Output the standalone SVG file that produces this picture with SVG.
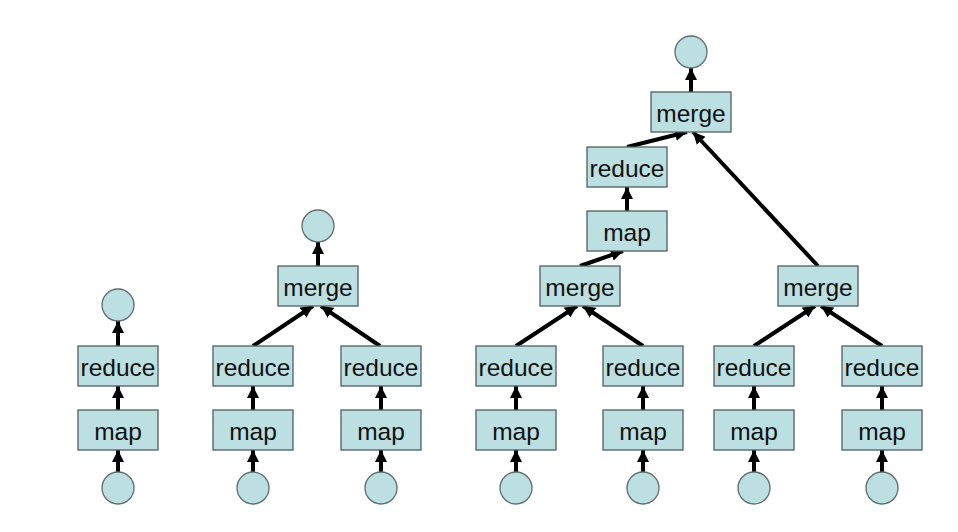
<svg xmlns="http://www.w3.org/2000/svg" width="958" height="532" viewBox="0 0 958 532">
<style>
.b{fill:#bcdfe2;stroke:#4f5f60;stroke-width:1.3}
.c{fill:#bcdfe2;stroke:#5f6d6e;stroke-width:1.3}
.t{font-family:"Liberation Sans",Arial,sans-serif;font-size:24.5px;fill:#111;text-anchor:middle}
.e{stroke:#000;stroke-width:4;fill:none;marker-end:url(#ah)}
</style>
<defs>
<marker id="ah" markerUnits="userSpaceOnUse" markerWidth="12" markerHeight="12" viewBox="0 0 10 10" refX="10" refY="5" orient="auto">
<path d="M0,0 L10,5 L0,10 z" fill="#000"/>
</marker>
</defs>
<rect width="958" height="532" fill="#fff"/>
<g id="connectors">
<line class="e" x1="118" y1="472" x2="118" y2="450"/>
<line class="e" x1="118" y1="410" x2="118" y2="386"/>
<line class="e" x1="118" y1="346" x2="118" y2="321"/>
<line class="e" x1="253" y1="472" x2="253" y2="450"/>
<line class="e" x1="253" y1="410" x2="253" y2="386"/>
<line class="e" x1="381" y1="472" x2="381" y2="450"/>
<line class="e" x1="381" y1="410" x2="381" y2="386"/>
<line class="e" x1="253" y1="346" x2="313" y2="306"/>
<line class="e" x1="380" y1="346" x2="321" y2="306"/>
<line class="e" x1="318" y1="266" x2="318" y2="242"/>
<line class="e" x1="516" y1="472" x2="516" y2="450"/>
<line class="e" x1="516" y1="410" x2="516" y2="386"/>
<line class="e" x1="643" y1="472" x2="643" y2="450"/>
<line class="e" x1="643" y1="410" x2="643" y2="386"/>
<line class="e" x1="754" y1="472" x2="754" y2="450"/>
<line class="e" x1="754" y1="410" x2="754" y2="386"/>
<line class="e" x1="882" y1="472" x2="882" y2="450"/>
<line class="e" x1="882" y1="410" x2="882" y2="386"/>
<line class="e" x1="516" y1="346" x2="577" y2="306"/>
<line class="e" x1="643" y1="346" x2="583" y2="306"/>
<line class="e" x1="754" y1="346" x2="815" y2="306"/>
<line class="e" x1="882" y1="346" x2="821" y2="306"/>
<line class="e" x1="580" y1="266" x2="623" y2="251"/>
<line class="e" x1="627" y1="211" x2="627" y2="187"/>
<line class="e" x1="627" y1="147" x2="687" y2="132"/>
<line class="e" x1="818" y1="266" x2="693" y2="132"/>
<line class="e" x1="691" y1="92" x2="691" y2="68"/>
</g>
<g id="t1-in"><circle class="c" cx="118" cy="488" r="16"/></g>
<g id="t1-map"><rect class="b" x="78" y="410" width="80" height="40"/><text class="t" x="118" y="440">map</text></g>
<g id="t1-reduce"><rect class="b" x="78" y="346" width="80" height="40"/><text class="t" x="118" y="376">reduce</text></g>
<g id="t1-out"><circle class="c" cx="118" cy="305" r="16"/></g>

<g id="t2-in1"><circle class="c" cx="253" cy="488" r="16"/></g>
<g id="t2-in2"><circle class="c" cx="381" cy="488" r="16"/></g>
<g id="t2-map1"><rect class="b" x="213" y="410" width="80" height="40"/><text class="t" x="253" y="440">map</text></g>
<g id="t2-map2"><rect class="b" x="341" y="410" width="80" height="40"/><text class="t" x="381" y="440">map</text></g>
<g id="t2-reduce1"><rect class="b" x="213" y="346" width="80" height="40"/><text class="t" x="253" y="376">reduce</text></g>
<g id="t2-reduce2"><rect class="b" x="341" y="346" width="80" height="40"/><text class="t" x="381" y="376">reduce</text></g>
<g id="t2-merge"><rect class="b" x="278" y="266" width="80" height="40"/><text class="t" x="318" y="296">merge</text></g>
<g id="t2-out"><circle class="c" cx="318" cy="226" r="16"/></g>

<g id="t3-in1"><circle class="c" cx="516" cy="488" r="16"/></g>
<g id="t3-in2"><circle class="c" cx="643" cy="488" r="16"/></g>
<g id="t3-in3"><circle class="c" cx="754" cy="488" r="16"/></g>
<g id="t3-in4"><circle class="c" cx="882" cy="488" r="16"/></g>
<g id="t3-map1"><rect class="b" x="476" y="410" width="80" height="40"/><text class="t" x="516" y="440">map</text></g>
<g id="t3-map2"><rect class="b" x="603" y="410" width="80" height="40"/><text class="t" x="643" y="440">map</text></g>
<g id="t3-map3"><rect class="b" x="714" y="410" width="80" height="40"/><text class="t" x="754" y="440">map</text></g>
<g id="t3-map4"><rect class="b" x="842" y="410" width="80" height="40"/><text class="t" x="882" y="440">map</text></g>
<g id="t3-reduce1"><rect class="b" x="476" y="346" width="80" height="40"/><text class="t" x="516" y="376">reduce</text></g>
<g id="t3-reduce2"><rect class="b" x="603" y="346" width="80" height="40"/><text class="t" x="643" y="376">reduce</text></g>
<g id="t3-reduce3"><rect class="b" x="714" y="346" width="80" height="40"/><text class="t" x="754" y="376">reduce</text></g>
<g id="t3-reduce4"><rect class="b" x="842" y="346" width="80" height="40"/><text class="t" x="882" y="376">reduce</text></g>
<g id="t3-merge1"><rect class="b" x="540" y="266" width="80" height="40"/><text class="t" x="580" y="296">merge</text></g>
<g id="t3-merge2"><rect class="b" x="778" y="266" width="80" height="40"/><text class="t" x="818" y="296">merge</text></g>
<g id="t3-map5"><rect class="b" x="587" y="211" width="80" height="40"/><text class="t" x="627" y="241">map</text></g>
<g id="t3-reduce5"><rect class="b" x="587" y="147" width="80" height="40"/><text class="t" x="627" y="177">reduce</text></g>
<g id="t3-merge3"><rect class="b" x="651" y="92" width="80" height="40"/><text class="t" x="691" y="122">merge</text></g>
<g id="t3-out"><circle class="c" cx="691" cy="52" r="16"/></g>
</svg>
